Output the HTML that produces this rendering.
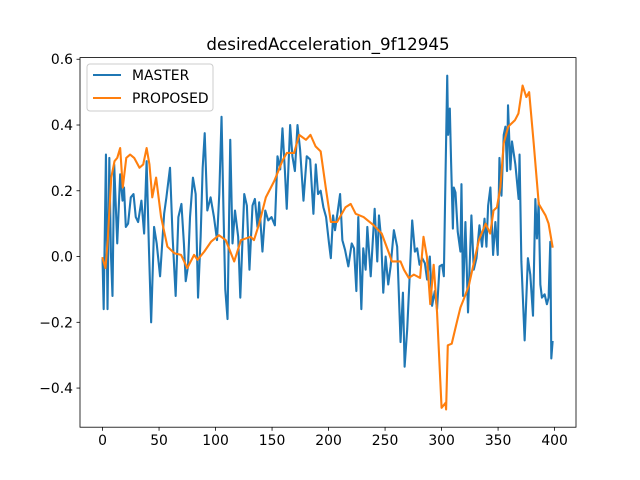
<!DOCTYPE html>
<html><head><meta charset="utf-8"><style>
html,body{margin:0;padding:0;background:#fff;}
svg{display:block;font-family:"DejaVu Sans","Liberation Sans",sans-serif;}
</style></head><body>
<svg id="chart" width="640" height="480" xmlns="http://www.w3.org/2000/svg">
<rect width="640" height="480" fill="#fff"/>
<text x="328" y="50" text-anchor="middle" font-size="16.7" fill="#000">desiredAcceleration_9f12945</text>
<g id="plot"></g>
<g id="axes"></g>
<g id="legend">
<rect x="87" y="64" width="126" height="47" rx="3" fill="#fff" fill-opacity="0.8" stroke="#ccc"/>
<line x1="93" y1="75" x2="121" y2="75" stroke="#1f77b4" stroke-width="2.1"/>
<text x="132" y="80" font-size="13.9">MASTER</text>
<line x1="93" y1="98" x2="121" y2="98" stroke="#ff7f0e" stroke-width="2.1"/>
<text x="132" y="103" font-size="13.9">PROPOSED</text>
</g>
</svg>
<script>
const masterX=[0,1,3,4.4,6,7.4,8.8,10.3,13,15.6,17.7,19,20.6,22.6,25,27.4,29.4,31.5,34.4,36.8,39,41,43,45.6,47.9,50.9,54.5,56.5,59.7,62,64.7,67.1,69.8,72,73.6,75.6,77.4,80,82.4,84.5,86.8,88.6,90.4,92.7,95.6,98.6,101.3,103.3,105.3,107,108.6,110.6,113,115,117.2,120,121.9,125.4,127.7,130,132.7,134.8,137.1,138.6,141.5,144,146.6,149.5,152.5,154.8,157.2,159.2,161.3,163,166,168,170.2,172.5,174.8,177.8,180.7,183.7,186.6,188.7,190.7,193,195.4,197.8,200.4,202,204,205.7,207.8,210.2,212.2,214.6,217.5,220.5,222.5,224.6,226.3,229,230.7,232.8,234.3,237.3,240.8,243.1,244.6,246.6,248.4,250.5,252.8,254.9,257.8,260.7,263.7,265.8,267.3,269.6,271.7,274,276.4,278.4,280.5,282.8,285.2,287.2,289.6,291.6,294,296,298.2,300.5,302,303.5,305,305.8,307.3,308.4,310,310.8,312.3,314.3,316.7,317.6,319,321.1,323.4,326.4,328.5,330.9,333.5,335.8,338,339.7,341.2,343.2,345.6,347.6,349.7,351.2,353,355,356.5,357.9,358.8,360.9,362.3,365.3,368.2,369,370.6,373.5,376.4,378.5,380.9,383,384.4,385.9,387.4,388.8,391.2,393.2,394.7,396.2,397.1,398.2];
const masterY=[-0.01,-0.16,0.31,-0.16,0.30,0.01,-0.12,0.28,0.04,0.25,0.17,0.21,0.09,0.10,0.18,0.19,0.12,0.105,0.17,0.07,0.29,0.03,-0.20,0.09,0.04,-0.06,0.13,0.18,0.27,0.06,-0.12,0.12,0.16,0.04,-0.075,-0.03,0.12,0.24,0.19,-0.125,0.06,0.27,0.375,0.14,0.18,0.12,0.05,0.19,0.425,0.14,-0.10,-0.19,0.355,0.04,0.14,0.06,-0.125,0.19,0.155,-0.04,0.155,0.175,0.09,0.165,0.015,0.14,0.11,0.12,0.095,0.305,0.265,0.39,0.265,0.145,0.40,0.305,0.26,0.40,0.325,0.17,0.305,0.295,0.13,0.28,0.19,0.20,0.15,0.12,0.04,-0.005,0.125,0.08,0.13,0.19,0.05,0.02,-0.03,0.04,0.025,-0.105,0.12,-0.16,0.025,-0.04,0.09,-0.06,0.145,-0.015,0.125,0.05,-0.11,0.0,-0.085,-0.03,0.08,0.03,-0.26,-0.11,-0.335,-0.22,-0.065,0.11,0.015,0.025,-0.025,-0.005,-0.02,-0.07,0.0,-0.15,-0.105,-0.16,-0.03,-0.025,-0.06,0.25,0.55,0.37,0.45,0.29,0.085,0.21,0.195,0.075,0.015,0.22,-0.12,0.105,-0.17,0.125,-0.04,-0.005,0.095,0.03,0.115,0.03,0.155,0.21,0.005,0.105,0.005,0.30,0.185,0.37,0.395,0.26,0.46,0.265,0.35,0.28,0.175,0.31,-0.015,-0.255,-0.005,-0.055,-0.18,0.175,0.055,0.165,-0.085,-0.125,-0.115,-0.145,-0.125,0.045,-0.31,-0.26];
const proposedX=[0,2.6,4.6,7.7,10.6,13,15.6,17.9,21,24.4,28,32.7,36,39,41.5,44,47.4,51.8,57.4,63.6,69.5,75,81,84,90,96,103,109,116.5,122.5,131,134,138.6,144.5,152,159,163,169.5,174,180,184,188.5,193,197.5,202,207.5,215,219.6,224,231,240,247,253.5,256,263.7,266.7,271,275.5,281,284,287,290,293,296,300,303.5,304,305.5,309,313.5,316.7,319.6,324,328.5,333,339,343,346,349,352,355,359,365,368,371.7,375,377.5,381.5,386,392,394.7,398.2];
const proposedY=[-0.005,-0.035,0.05,0.24,0.29,0.30,0.33,0.21,0.30,0.31,0.30,0.27,0.28,0.33,0.28,0.18,0.24,0.12,0.03,0.01,0.005,-0.035,0.005,-0.01,0.015,0.045,0.065,0.05,-0.015,0.05,0.06,0.05,0.10,0.18,0.23,0.29,0.315,0.315,0.37,0.355,0.37,0.335,0.32,0.21,0.105,0.105,0.15,0.16,0.13,0.12,0.095,0.07,0.01,-0.015,-0.015,-0.04,-0.065,-0.055,-0.065,0.06,0.0,-0.145,-0.025,-0.17,-0.46,-0.445,-0.465,-0.27,-0.265,-0.20,-0.155,-0.13,-0.09,-0.02,0.05,0.10,0.07,0.14,0.15,0.21,0.345,0.395,0.415,0.435,0.52,0.485,0.50,0.345,0.16,0.125,0.10,0.03];
const xTicks=[0,50,100,150,200,250,300,350,400];
const yTicks=[-0.4,-0.2,0.0,0.2,0.4,0.6];
const yTickLabels=["−0.4","−0.2","0.0","0.2","0.4","0.6"];

const L=80,R=576,T=57.6,B=427.2;
const xMin=-19.95,xMax=418.95,yMin=-0.519,yMax=0.605;
const sx=v=>L+(v-xMin)/(xMax-xMin)*(R-L);
const sy=v=>B-(v-yMin)/(yMax-yMin)*(B-T);
const NS="http://www.w3.org/2000/svg";
function mk(tag,attrs,parent){const e=document.createElementNS(NS,tag);for(const k in attrs)e.setAttribute(k,attrs[k]);parent.appendChild(e);return e;}
const plot=document.getElementById('plot'),axes=document.getElementById('axes');
function series(xs,ys,color,name){
  const d=xs.map((x,i)=>(i?'L':'M')+sx(x).toFixed(2)+','+sy(ys[i]).toFixed(2)).join('');
  const p=mk('path',{d:d,fill:'none',stroke:color,'stroke-width':2.1,'stroke-linejoin':'round','stroke-linecap':'square'},plot);
  
  
}
series(masterX,masterY,'#1f77b4','master-line');
series(proposedX,proposedY,'#ff7f0e','proposed-line');
const frame=mk('rect',{x:L,y:T,width:R-L,height:B-T,fill:'none',stroke:'#000','stroke-width':0.8},axes);


xTicks.forEach(v=>{
  const x=sx(v);
  const t=mk('line',{x1:x,y1:B,x2:x,y2:B+3.5,stroke:'#000','stroke-width':0.8},axes);
  
  
  const l=mk('text',{x:x,y:B+18,'text-anchor':'middle','font-size':13.9},axes);
  l.textContent=String(v);
  
  
});
yTicks.forEach((v,i)=>{
  const y=sy(v);
  const t=mk('line',{x1:L-3.5,y1:y,x2:L,y2:y,stroke:'#000','stroke-width':0.8},axes);
  
  
  const l=mk('text',{x:L-7,y:y+5,'text-anchor':'end','font-size':13.9},axes);
  l.textContent=yTickLabels[i];
  
  
});
</script>
</body></html>
